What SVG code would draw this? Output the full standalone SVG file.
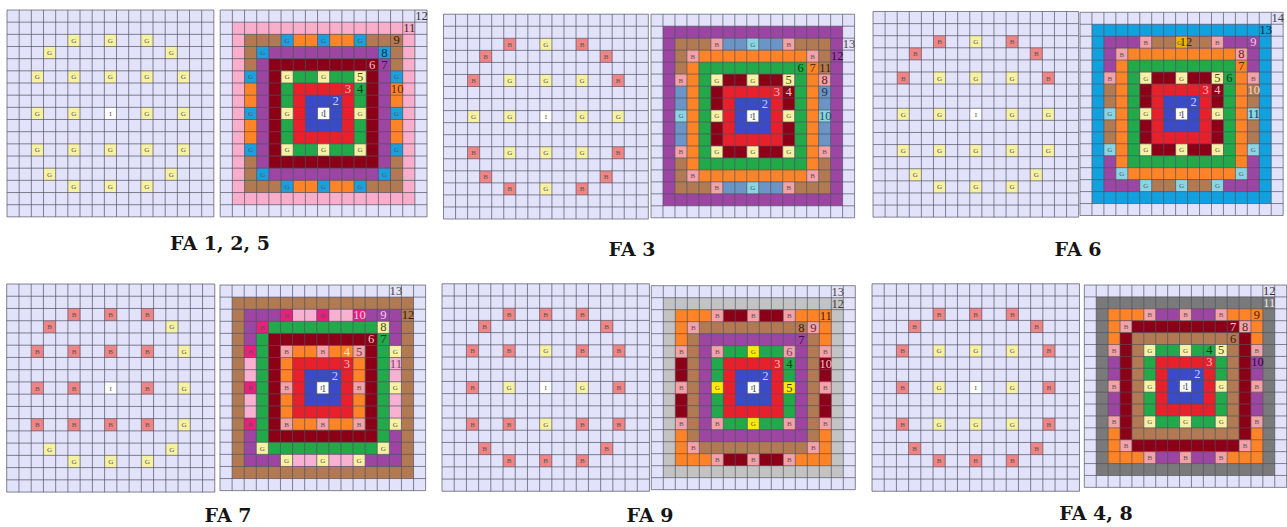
<svg xmlns="http://www.w3.org/2000/svg" width="1287" height="527" viewBox="0 0 1287 527">
<style>
.lv{fill:#e2e2fb}.pk{fill:#f9aecb}.br{fill:#b17a53}.pu{fill:#9c45a3}.dr{fill:#8b0016}.gn{fill:#22a94a}.rd{fill:#e8202b}.bl{fill:#3a4bc8}.wh{fill:#fff}.or{fill:#ff8427}.sb{fill:#6b95c6}.bb{fill:#12a0df}.lg{fill:#c3c3c3}.dg{fill:#7a7a7a}.lp{fill:#f8b1d0}
.gy{fill:#f6f1a3}.bs{fill:#f08585}.bp{fill:#f4a2a8}.gc{fill:#8ad5e4}.gb{fill:#1ba0de}.bm{fill:#e91f7c}.gx{fill:#ffeb00}.au{fill:#f1b400}
.c{font-family:"Liberation Serif",serif;font-size:7px;fill:#555;text-anchor:middle}
.n{font-family:"Liberation Serif",serif;font-size:12.5px;text-anchor:middle}
.gl{fill:none;stroke:#50505f;stroke-width:0.8;stroke-opacity:0.85}
.cap{font-family:"DejaVu Serif",serif;font-size:19px;font-weight:bold;fill:#151515;text-anchor:middle}
</style>
<defs>
<path id="grid" d="M0 0V204M12 0V204M24 0V204M36 0V204M48 0V204M60 0V204M72 0V204M84 0V204M96 0V204M108 0V204M120 0V204M132 0V204M144 0V204M156 0V204M168 0V204M180 0V204M192 0V204M204 0V204M0 0H204M0 12H204M0 24H204M0 36H204M0 48H204M0 60H204M0 72H204M0 84H204M0 96H204M0 108H204M0 120H204M0 132H204M0 144H204M0 156H204M0 168H204M0 180H204M0 192H204M0 204H204"/>
<path id="seg" d="M72 24h24v12h-24zM108 24h24v12h-24zM72 168h24v12h-24zM108 168h24v12h-24zM24 72h12v24h-12zM24 108h12v24h-12zM168 72h12v24h-12zM168 108h12v24h-12z"/>
<g id="GY"><rect width="12" height="12" class="gy"/><text x="6" y="8.5" class="c">G</text></g>
<g id="GC"><rect width="12" height="12" class="gc"/><text x="6" y="8.5" class="c">G</text></g>
<g id="GB"><rect width="12" height="12" class="gb"/><text x="6" y="8.5" class="c">G</text></g>
<g id="GX"><rect width="12" height="12" class="gx"/><text x="6" y="8.5" class="c">G</text></g>
<g id="BS"><rect width="12" height="12" class="bs"/><text x="6" y="8.5" class="c">B</text></g>
<g id="BP"><rect width="12" height="12" class="bp"/><text x="6" y="8.5" class="c">B</text></g>
<g id="BM"><rect width="12" height="12" class="bm"/><text x="6" y="8.5" class="c">B</text></g>
<g id="IL"><rect width="12" height="12" class="wh"/><text x="6" y="8.5" class="c">I</text></g>
<g id="IR"><rect width="12" height="12" class="wh"/><text x="4.5" y="8.5" class="c">I</text><text x="7" y="10" class="n" style="font-size:10px;fill:#444">1</text></g>
</defs>

<!-- ================= FA 1, 2, 5 ================= -->
<g id="fa125-left" transform="translate(7,10) scale(1.014)">
<rect width="204" height="204" class="lv"/>
<use href="#GY" x="60" y="24"/><use href="#GY" x="96" y="24"/><use href="#GY" x="132" y="24"/>
<use href="#GY" x="36" y="36"/><use href="#GY" x="156" y="36"/>
<use href="#GY" x="24" y="60"/><use href="#GY" x="60" y="60"/><use href="#GY" x="96" y="60"/><use href="#GY" x="132" y="60"/><use href="#GY" x="168" y="60"/>
<use href="#GY" x="24" y="96"/><use href="#GY" x="60" y="96"/><use href="#IL" x="96" y="96"/><use href="#GY" x="132" y="96"/><use href="#GY" x="168" y="96"/>
<use href="#GY" x="24" y="132"/><use href="#GY" x="60" y="132"/><use href="#GY" x="96" y="132"/><use href="#GY" x="132" y="132"/><use href="#GY" x="168" y="132"/>
<use href="#GY" x="36" y="156"/><use href="#GY" x="156" y="156"/>
<use href="#GY" x="60" y="168"/><use href="#GY" x="96" y="168"/><use href="#GY" x="132" y="168"/>
<use href="#grid" class="gl"/>
</g>

<g id="fa125-right" transform="translate(220.2,10) scale(1.014)">
<rect width="204" height="204" class="lv"/>
<rect x="12" y="12" width="180" height="180" class="pk"/>
<rect x="24" y="24" width="156" height="156" class="br"/>
<rect x="36" y="36" width="132" height="132" class="pu"/>
<rect x="48" y="48" width="108" height="108" class="dr"/>
<rect x="60" y="60" width="84" height="84" class="gn"/>
<rect x="72" y="72" width="60" height="60" class="rd"/>
<rect x="84" y="84" width="36" height="36" class="bl"/>
<use href="#seg" class="or"/>
<use href="#GB" x="60" y="24"/><use href="#GB" x="96" y="24"/><use href="#GB" x="132" y="24"/>
<use href="#GB" x="24" y="60"/><use href="#GB" x="24" y="96"/><use href="#GB" x="24" y="132"/>
<use href="#GB" x="168" y="60"/><use href="#GB" x="168" y="96"/><use href="#GB" x="168" y="132"/>
<use href="#GB" x="60" y="168"/><use href="#GB" x="96" y="168"/><use href="#GB" x="132" y="168"/>
<use href="#GB" x="36" y="36"/><rect x="156" y="36" width="12" height="12" class="gb"/><use href="#GB" x="36" y="156"/><use href="#GB" x="156" y="156"/>
<use href="#GY" x="60" y="60"/><use href="#GY" x="96" y="60"/><rect x="132" y="60" width="12" height="12" class="gy"/>
<use href="#GY" x="60" y="96"/><use href="#GY" x="132" y="96"/>
<use href="#GY" x="60" y="132"/><use href="#GY" x="96" y="132"/><use href="#GY" x="132" y="132"/>
<use href="#IR" x="96" y="96"/>
<use href="#grid" class="gl"/>
<text class="n" x="114" y="94" fill="#c8ccff">2</text>
<text class="n" x="126" y="82" fill="#ffc0c8">3</text>
<text class="n" x="138" y="82" fill="#0c3a14">4</text>
<text class="n" x="138" y="70" fill="#4a4a10">5</text>
<text class="n" x="150" y="58" fill="#f4c4cc">6</text>
<text class="n" x="162" y="58" fill="#3a1040">7</text>
<text class="n" x="162" y="46" fill="#0a2a4a">8</text>
<text class="n" x="174" y="34" fill="#3a2008">9</text>
<text class="n" x="174.5" y="82" fill="#5a2a00">10</text>
<text class="n" x="186.5" y="22" fill="#3a2a30">11</text>
<text class="n" x="198.5" y="10" fill="#333">12</text>
</g>

<!-- ================= FA 3 ================= -->
<g id="fa3-left" transform="translate(443.5,14.2) scale(1.004)">
<rect width="204" height="204" class="lv"/>
<use href="#BS" x="60" y="24"/><use href="#GY" x="96" y="24"/><use href="#BS" x="132" y="24"/>
<use href="#BS" x="36" y="36"/><use href="#BS" x="156" y="36"/>
<use href="#BS" x="24" y="60"/><use href="#GY" x="60" y="60"/><use href="#GY" x="96" y="60"/><use href="#GY" x="132" y="60"/><use href="#BS" x="168" y="60"/>
<use href="#GY" x="24" y="96"/><use href="#GY" x="60" y="96"/><use href="#IL" x="96" y="96"/><use href="#GY" x="132" y="96"/><use href="#GY" x="168" y="96"/>
<use href="#BS" x="24" y="132"/><use href="#GY" x="60" y="132"/><use href="#GY" x="96" y="132"/><use href="#GY" x="132" y="132"/><use href="#BS" x="168" y="132"/>
<use href="#BS" x="36" y="156"/><use href="#BS" x="156" y="156"/>
<use href="#BS" x="60" y="168"/><use href="#GY" x="96" y="168"/><use href="#BS" x="132" y="168"/>
<use href="#grid" class="gl"/>
</g>

<g id="fa3-right" transform="translate(651,14.2) scale(0.998)">
<rect width="204" height="204" class="lv"/>
<rect x="12" y="12" width="180" height="180" class="pu"/>
<rect x="24" y="24" width="156" height="156" class="br"/>
<rect x="36" y="36" width="132" height="132" class="or"/>
<rect x="48" y="48" width="108" height="108" class="gn"/>
<rect x="60" y="60" width="84" height="84" class="dr"/>
<rect x="72" y="72" width="60" height="60" class="rd"/>
<rect x="84" y="84" width="36" height="36" class="bl"/>
<use href="#seg" class="sb"/>
<use href="#BP" x="60" y="24"/><use href="#GC" x="96" y="24"/><use href="#BP" x="132" y="24"/>
<use href="#BP" x="24" y="60"/><use href="#GC" x="24" y="96"/><use href="#BP" x="24" y="132"/>
<rect x="168" y="60" width="12" height="12" class="bp"/><rect x="168" y="96" width="12" height="12" class="gc"/><use href="#BP" x="168" y="132"/>
<use href="#BP" x="60" y="168"/><use href="#GC" x="96" y="168"/><use href="#BP" x="132" y="168"/>
<use href="#BP" x="36" y="36"/><use href="#BP" x="156" y="36"/><use href="#BP" x="36" y="156"/><use href="#BP" x="156" y="156"/>
<use href="#GY" x="60" y="60"/><use href="#GY" x="96" y="60"/><rect x="132" y="60" width="12" height="12" class="gy"/>
<use href="#GY" x="60" y="96"/><use href="#GY" x="132" y="96"/>
<use href="#GY" x="60" y="132"/><use href="#GY" x="96" y="132"/><use href="#GY" x="132" y="132"/>
<use href="#IR" x="96" y="96"/>
<use href="#grid" class="gl"/>
<text class="n" x="114" y="94" fill="#c8ccff">2</text>
<text class="n" x="126" y="82" fill="#ffc0c8">3</text>
<text class="n" x="138" y="82" fill="#f0c8d0">4</text>
<text class="n" x="138" y="70" fill="#4a4a10">5</text>
<text class="n" x="150" y="58" fill="#0a3a10">6</text>
<text class="n" x="162" y="58" fill="#5a2a00">7</text>
<text class="n" x="174" y="70" fill="#5a2020">8</text>
<text class="n" x="174" y="82" fill="#1a3050">9</text>
<text class="n" x="174.5" y="106" fill="#205060">10</text>
<text class="n" x="174.5" y="58" fill="#3a2008">11</text>
<text class="n" x="186.5" y="46" fill="#3a0a40">12</text>
<text class="n" x="198.5" y="34" fill="#444">13</text>
</g>

<!-- ================= FA 6 ================= -->
<g id="fa6-left" transform="translate(873,11.5) scale(1.008)">
<rect width="204" height="204" class="lv"/>
<use href="#BS" x="60" y="24"/><use href="#GY" x="96" y="24"/><use href="#BS" x="132" y="24"/>
<use href="#BS" x="36" y="36"/><use href="#BS" x="156" y="36"/>
<use href="#BS" x="24" y="60"/><use href="#GY" x="60" y="60"/><use href="#GY" x="96" y="60"/><use href="#GY" x="132" y="60"/><use href="#BS" x="168" y="60"/>
<use href="#GY" x="24" y="96"/><use href="#GY" x="60" y="96"/><use href="#IL" x="96" y="96"/><use href="#GY" x="132" y="96"/><use href="#GY" x="168" y="96"/>
<use href="#GY" x="24" y="132"/><use href="#GY" x="60" y="132"/><use href="#GY" x="96" y="132"/><use href="#GY" x="132" y="132"/><use href="#GY" x="168" y="132"/>
<use href="#GY" x="36" y="156"/><use href="#GY" x="156" y="156"/>
<use href="#GY" x="60" y="168"/><use href="#GY" x="96" y="168"/><use href="#GY" x="132" y="168"/>
<use href="#grid" class="gl"/>
</g>

<g id="fa6-right" transform="translate(1080,12.3) scale(0.996)">
<rect width="204" height="204" class="lv"/>
<rect x="12" y="12" width="180" height="180" class="bb"/>
<rect x="24" y="24" width="156" height="156" class="pu"/>
<rect x="36" y="36" width="132" height="132" class="or"/>
<rect x="48" y="48" width="108" height="108" class="gn"/>
<rect x="60" y="60" width="84" height="84" class="dr"/>
<rect x="72" y="72" width="60" height="60" class="rd"/>
<rect x="84" y="84" width="36" height="36" class="bl"/>
<use href="#seg" class="br"/>
<use href="#BP" x="60" y="24"/><rect x="96" y="24" width="12" height="12" class="au"/><text x="100" y="32.5" class="c">G</text><use href="#BP" x="132" y="24"/>
<use href="#BP" x="24" y="60"/><use href="#GC" x="24" y="96"/><use href="#GC" x="24" y="132"/>
<use href="#BP" x="168" y="60"/><rect x="168" y="96" width="12" height="12" class="gc"/><use href="#GC" x="168" y="132"/>
<use href="#GC" x="60" y="168"/><use href="#GC" x="96" y="168"/><use href="#GC" x="132" y="168"/>
<use href="#BP" x="36" y="36"/><rect x="156" y="36" width="12" height="12" class="bp"/><use href="#GC" x="36" y="156"/><use href="#GC" x="156" y="156"/>
<use href="#GY" x="60" y="60"/><use href="#GY" x="96" y="60"/><rect x="132" y="60" width="12" height="12" class="gy"/>
<use href="#GY" x="60" y="96"/><use href="#GY" x="132" y="96"/>
<use href="#GY" x="60" y="132"/><use href="#GY" x="96" y="132"/><use href="#GY" x="132" y="132"/>
<use href="#IR" x="96" y="96"/>
<use href="#grid" class="gl"/>
<text class="n" x="114" y="94" fill="#c8ccff">2</text>
<text class="n" x="126" y="82" fill="#ffc0c8">3</text>
<text class="n" x="138" y="82" fill="#f0c8d0">4</text>
<text class="n" x="138" y="70" fill="#4a4a10">5</text>
<text class="n" x="150" y="70" fill="#0a3a10">6</text>
<text class="n" x="162" y="58" fill="#5a2a00">7</text>
<text class="n" x="162" y="46" fill="#5a2020">8</text>
<text class="n" x="174" y="34" fill="#f0c8e8">9</text>
<text class="n" x="174.5" y="82" fill="#f0dccc">10</text>
<text class="n" x="174.5" y="106" fill="#1a3a50">11</text>
<text class="n" x="106.5" y="34" fill="#3a2a00">12</text>
<text class="n" x="186.5" y="22" fill="#0a2a40">13</text>
<text class="n" x="198.5" y="10" fill="#444">14</text>
</g>

<!-- ================= FA 7 ================= -->
<g id="fa7-left" transform="translate(6.7,284) scale(1.02)">
<rect width="204" height="204" class="lv"/>
<use href="#BS" x="60" y="24"/><use href="#BS" x="96" y="24"/><use href="#BS" x="132" y="24"/>
<use href="#BS" x="36" y="36"/><use href="#GY" x="156" y="36"/>
<use href="#BS" x="24" y="60"/><use href="#BS" x="60" y="60"/><use href="#BS" x="96" y="60"/><use href="#BS" x="132" y="60"/><use href="#GY" x="168" y="60"/>
<use href="#BS" x="24" y="96"/><use href="#BS" x="60" y="96"/><use href="#IL" x="96" y="96"/><use href="#BS" x="132" y="96"/><use href="#GY" x="168" y="96"/>
<use href="#BS" x="24" y="132"/><use href="#BS" x="60" y="132"/><use href="#BS" x="96" y="132"/><use href="#BS" x="132" y="132"/><use href="#GY" x="168" y="132"/>
<use href="#GY" x="36" y="156"/><use href="#GY" x="156" y="156"/>
<use href="#GY" x="60" y="168"/><use href="#GY" x="96" y="168"/><use href="#GY" x="132" y="168"/>
<use href="#grid" class="gl"/>
</g>

<g id="fa7-right" transform="translate(220,285) scale(1.008)">
<rect width="204" height="204" class="lv"/>
<rect x="12" y="12" width="180" height="180" class="br"/>
<rect x="24" y="24" width="156" height="156" class="pu"/>
<rect x="36" y="36" width="132" height="132" class="gn"/>
<rect x="48" y="48" width="108" height="108" class="dr"/>
<rect x="60" y="60" width="84" height="84" class="or"/>
<rect x="72" y="72" width="60" height="60" class="rd"/>
<rect x="84" y="84" width="36" height="36" class="bl"/>
<use href="#seg" class="lp"/>
<use href="#BM" x="60" y="24"/><use href="#BM" x="96" y="24"/><rect x="132" y="24" width="12" height="12" class="bm"/>
<use href="#BM" x="24" y="60"/><use href="#BM" x="24" y="96"/><use href="#BM" x="24" y="132"/>
<use href="#GY" x="168" y="60"/><use href="#GY" x="168" y="96"/><use href="#GY" x="168" y="132"/>
<use href="#GY" x="60" y="168"/><use href="#GY" x="96" y="168"/><use href="#GY" x="132" y="168"/>
<use href="#BM" x="36" y="36"/><rect x="156" y="36" width="12" height="12" class="gy"/><use href="#GY" x="36" y="156"/><use href="#GY" x="156" y="156"/>
<use href="#BP" x="60" y="60"/><use href="#BP" x="96" y="60"/><rect x="132" y="60" width="12" height="12" class="bp"/>
<use href="#BP" x="60" y="96"/><use href="#BP" x="132" y="96"/>
<use href="#BP" x="60" y="132"/><use href="#BP" x="96" y="132"/><use href="#BP" x="132" y="132"/>
<use href="#IR" x="96" y="96"/>
<use href="#grid" class="gl"/>
<text class="n" x="114" y="94" fill="#c8ccff">2</text>
<text class="n" x="126" y="82" fill="#ffc0c8">3</text>
<text class="n" x="126" y="70" fill="#ffe8d0">4</text>
<text class="n" x="138" y="70" fill="#6a4040">5</text>
<text class="n" x="150" y="58" fill="#f4c4cc">6</text>
<text class="n" x="162" y="58" fill="#0a3a10">7</text>
<text class="n" x="162" y="46" fill="#4a4a10">8</text>
<text class="n" x="162" y="34" fill="#f0d0f0">9</text>
<text class="n" x="138.5" y="34" fill="#ffd0e8">10</text>
<text class="n" x="174.5" y="82" fill="#7a4a6a">11</text>
<text class="n" x="186.5" y="34" fill="#3a2008">12</text>
<text class="n" x="174.5" y="10" fill="#444">13</text>
</g>

<!-- ================= FA 9 ================= -->
<g id="fa9-left" transform="translate(442,283.8) scale(1.017)">
<rect width="204" height="204" class="lv"/>
<use href="#BS" x="60" y="24"/><use href="#BS" x="96" y="24"/><use href="#BS" x="132" y="24"/>
<use href="#BS" x="36" y="36"/><use href="#BS" x="156" y="36"/>
<use href="#BS" x="24" y="60"/><use href="#BS" x="60" y="60"/><use href="#GY" x="96" y="60"/><use href="#BS" x="132" y="60"/><use href="#BS" x="168" y="60"/>
<use href="#BS" x="24" y="96"/><use href="#GY" x="60" y="96"/><use href="#IL" x="96" y="96"/><use href="#GY" x="132" y="96"/><use href="#BS" x="168" y="96"/>
<use href="#BS" x="24" y="132"/><use href="#BS" x="60" y="132"/><use href="#GY" x="96" y="132"/><use href="#BS" x="132" y="132"/><use href="#BS" x="168" y="132"/>
<use href="#BS" x="36" y="156"/><use href="#BS" x="156" y="156"/>
<use href="#BS" x="60" y="168"/><use href="#BS" x="96" y="168"/><use href="#BS" x="132" y="168"/>
<use href="#grid" class="gl"/>
</g>

<g id="fa9-right" transform="translate(651.3,285.7) scale(1.0)">
<rect width="204" height="204" class="lv"/>
<rect x="12" y="12" width="180" height="180" class="lg"/>
<rect x="24" y="24" width="156" height="156" class="or"/>
<rect x="36" y="36" width="132" height="132" class="br"/>
<rect x="48" y="48" width="108" height="108" class="pu"/>
<rect x="60" y="60" width="84" height="84" class="gn"/>
<rect x="72" y="72" width="60" height="60" class="rd"/>
<rect x="84" y="84" width="36" height="36" class="bl"/>
<use href="#seg" class="dr"/>
<use href="#BP" x="60" y="24"/><use href="#BP" x="96" y="24"/><use href="#BP" x="132" y="24"/>
<use href="#BP" x="24" y="60"/><use href="#BP" x="24" y="96"/><use href="#BP" x="24" y="132"/>
<use href="#BP" x="168" y="60"/><use href="#BP" x="168" y="96"/><use href="#BP" x="168" y="132"/>
<use href="#BP" x="60" y="168"/><use href="#BP" x="96" y="168"/><use href="#BP" x="132" y="168"/>
<use href="#BP" x="36" y="36"/><rect x="156" y="36" width="12" height="12" class="bp"/><use href="#BP" x="36" y="156"/><use href="#BP" x="156" y="156"/>
<use href="#BP" x="60" y="60"/><use href="#GX" x="96" y="60"/><rect x="132" y="60" width="12" height="12" class="bp"/>
<use href="#GX" x="60" y="96"/><rect x="132" y="96" width="12" height="12" class="gx"/>
<use href="#BP" x="60" y="132"/><use href="#GX" x="96" y="132"/><use href="#BP" x="132" y="132"/>
<use href="#IR" x="96" y="96"/>
<use href="#grid" class="gl"/>
<text class="n" x="114" y="94" fill="#c8ccff">2</text>
<text class="n" x="126" y="82" fill="#ffc0c8">3</text>
<text class="n" x="138" y="82" fill="#0c3a14">4</text>
<text class="n" x="138" y="106" fill="#333">5</text>
<text class="n" x="138" y="70" fill="#7a3a7a">6</text>
<text class="n" x="150" y="58" fill="#3a0a40">7</text>
<text class="n" x="150" y="46" fill="#3a2008">8</text>
<text class="n" x="162" y="46" fill="#5a2a2a">9</text>
<text class="n" x="174.5" y="82" fill="#f0c0c8">10</text>
<text class="n" x="174.5" y="34" fill="#4a2000">11</text>
<text class="n" x="186.5" y="22" fill="#444">12</text>
<text class="n" x="186.5" y="10" fill="#444">13</text>
</g>

<!-- ================= FA 4, 8 ================= -->
<g id="fa48-left" transform="translate(872,283.8) scale(1.017)">
<rect width="204" height="204" class="lv"/>
<use href="#BS" x="60" y="24"/><use href="#BS" x="96" y="24"/><use href="#BS" x="132" y="24"/>
<use href="#BS" x="36" y="36"/><use href="#BS" x="156" y="36"/>
<use href="#BS" x="24" y="60"/><use href="#GY" x="60" y="60"/><use href="#GY" x="96" y="60"/><use href="#GY" x="132" y="60"/><use href="#BS" x="168" y="60"/>
<use href="#BS" x="24" y="96"/><use href="#GY" x="60" y="96"/><use href="#IL" x="96" y="96"/><use href="#GY" x="132" y="96"/><use href="#BS" x="168" y="96"/>
<use href="#BS" x="24" y="132"/><use href="#GY" x="60" y="132"/><use href="#GY" x="96" y="132"/><use href="#GY" x="132" y="132"/><use href="#BS" x="168" y="132"/>
<use href="#BS" x="36" y="156"/><use href="#BS" x="156" y="156"/>
<use href="#BS" x="60" y="168"/><use href="#BS" x="96" y="168"/><use href="#BS" x="132" y="168"/>
<use href="#grid" class="gl"/>
</g>

<g id="fa48-right" transform="translate(1084.3,285) scale(0.992)">
<rect width="204" height="204" class="lv"/>
<rect x="12" y="12" width="180" height="180" class="dg"/>
<rect x="24" y="24" width="156" height="156" class="or"/>
<rect x="36" y="36" width="132" height="132" class="dr"/>
<rect x="48" y="48" width="108" height="108" class="br"/>
<rect x="60" y="60" width="84" height="84" class="gn"/>
<rect x="72" y="72" width="60" height="60" class="rd"/>
<rect x="84" y="84" width="36" height="36" class="bl"/>
<use href="#seg" class="pu"/>
<use href="#BP" x="60" y="24"/><use href="#BP" x="96" y="24"/><use href="#BP" x="132" y="24"/>
<use href="#BP" x="24" y="60"/><use href="#BP" x="24" y="96"/><use href="#BP" x="24" y="132"/>
<use href="#BP" x="168" y="60"/><use href="#BP" x="168" y="96"/><use href="#BP" x="168" y="132"/>
<use href="#BP" x="60" y="168"/><use href="#BP" x="96" y="168"/><use href="#BP" x="132" y="168"/>
<use href="#BP" x="36" y="36"/><rect x="156" y="36" width="12" height="12" class="bp"/><use href="#BP" x="36" y="156"/><use href="#BP" x="156" y="156"/>
<use href="#GY" x="60" y="60"/><use href="#GY" x="96" y="60"/><rect x="132" y="60" width="12" height="12" class="gy"/>
<use href="#GY" x="60" y="96"/><use href="#GY" x="132" y="96"/>
<use href="#GY" x="60" y="132"/><use href="#GY" x="96" y="132"/><use href="#GY" x="132" y="132"/>
<use href="#IR" x="96" y="96"/>
<use href="#grid" class="gl"/>
<text class="n" x="114" y="94" fill="#c8ccff">2</text>
<text class="n" x="126" y="82" fill="#ffc0c8">3</text>
<text class="n" x="126" y="70" fill="#0c3a14">4</text>
<text class="n" x="138" y="70" fill="#4a4a10">5</text>
<text class="n" x="150" y="58" fill="#3a2008">6</text>
<text class="n" x="150" y="46" fill="#f4d0d8">7</text>
<text class="n" x="162" y="46" fill="#5a2a2a">8</text>
<text class="n" x="174" y="34" fill="#4a2000">9</text>
<text class="n" x="174.5" y="82" fill="#2a0a3a">10</text>
<text class="n" x="186.5" y="22" fill="#e8e8e8">11</text>
<text class="n" x="186.5" y="10" fill="#333">12</text>
</g>

<g id="captions">
<text class="cap" x="220" y="250">FA 1, 2, 5</text>
<text class="cap" x="632" y="256">FA 3</text>
<text class="cap" x="1078" y="256">FA 6</text>
<text class="cap" x="228" y="522">FA 7</text>
<text class="cap" x="650" y="522">FA 9</text>
<text class="cap" x="1096" y="520">FA 4, 8</text>
</g>
</svg>
